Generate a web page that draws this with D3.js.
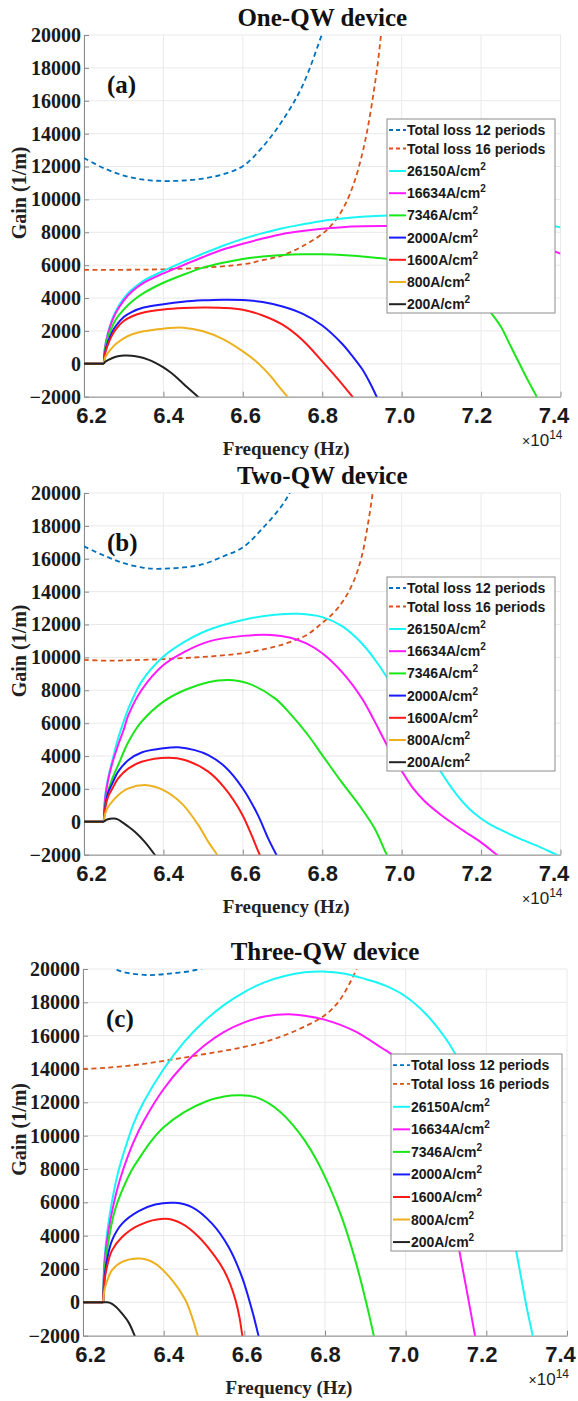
<!DOCTYPE html>
<html>
<head>
<meta charset="utf-8">
<script src="https://cdn.jsdelivr.net/npm/d3@7"></script>
<style>
  body { margin: 0; background: #fff; }
  svg { display: block; }
</style>
</head>
<body>
<div id="chart-container"></div>
<script>
// Titles, tags and ticks
const panelTitles = ["One-QW device", "Two-QW device", "Three-QW device"];
const panelTags = ["(a)", "(b)", "(c)"];
const xTicks = [6.2, 6.4, 6.6, 6.8, 7.0, 7.2, 7.4];
const yTicks = [-2000, 0, 2000, 4000, 6000, 8000, 10000, 12000, 14000, 16000, 18000, 20000];
const lossLabels = ["Total loss 12 periods", "Total loss 16 periods"];
const currentDensities = ["26150", "16634", "7346", "2000", "1600", "800", "200"];
const seriesColors = [
  "#0072BD", // loss 12 periods
  "#D95319", // loss 16 periods
  "#1AF5F5", // 26150
  "#FF1AFF", // 16634
  "#1AE61A", // 7346
  "#1A1AFF", // 2000
  "#FF1A1A", // 1600
  "#EDB120", // 800
  "#222222", // 200
];

// ---- Panel (a): one QW, [frequency 1e14 Hz, gain 1/m]
const a_loss12 = [[6.2,12520],[6.25,11900],[6.3,11450],[6.35,11200],[6.4,11120],[6.45,11150],[6.5,11270],[6.55,11530],[6.6,12020],[6.65,13200],[6.7,14800],[6.75,16900],[6.8,20100],[6.82,21500]];
const a_loss16 = [[6.2,5720],[6.3,5720],[6.4,5750],[6.5,5850],[6.6,6050],[6.65,6300],[6.7,6600],[6.75,7150],[6.8,7900],[6.82,8350],[6.84,8950],[6.86,9800],[6.88,11000],[6.9,12700],[6.915,14400],[6.93,16600],[6.94,18300],[6.948,20000],[6.956,21500]];
const a_j26150 = [[6.2,0],[6.25,0],[6.253,1050],[6.26,1850],[6.27,2650],[6.28,3200],[6.3,3980],[6.32,4500],[6.35,5050],[6.4,5650],[6.45,6200],[6.5,6700],[6.55,7180],[6.6,7600],[6.65,7950],[6.7,8250],[6.75,8480],[6.8,8690],[6.85,8840],[6.9,8950],[6.95,9010],[7.0,9040],[7.1,9080],[7.2,9000],[7.3,8750],[7.4,8300]];
const a_j16634 = [[6.2,0],[6.25,0],[6.253,1000],[6.26,1800],[6.27,2550],[6.28,3100],[6.3,3850],[6.32,4380],[6.35,4920],[6.4,5500],[6.45,6000],[6.5,6500],[6.55,6950],[6.6,7300],[6.65,7620],[6.7,7900],[6.75,8080],[6.8,8220],[6.85,8310],[6.9,8360],[6.95,8380],[7.0,8370],[7.1,8290],[7.2,8050],[7.3,7550],[7.4,6700]];
const a_j7346 = [[6.2,0],[6.25,0],[6.253,900],[6.26,1600],[6.27,2200],[6.28,2700],[6.3,3300],[6.32,3780],[6.35,4300],[6.4,4930],[6.45,5420],[6.5,5850],[6.55,6150],[6.6,6380],[6.65,6530],[6.7,6620],[6.75,6660],[6.8,6660],[6.85,6620],[6.9,6530],[6.95,6420],[7.0,6280],[7.05,6000],[7.1,5500],[7.15,4800],[7.2,3800],[7.225,3100],[7.25,2250],[7.275,1050],[7.3,-150],[7.32,-1100],[7.34,-2000],[7.35,-2500]];
const a_j2000 = [[6.2,0],[6.25,0],[6.253,700],[6.26,1300],[6.27,1900],[6.28,2300],[6.3,2850],[6.32,3150],[6.35,3420],[6.4,3630],[6.45,3780],[6.5,3860],[6.55,3900],[6.6,3880],[6.65,3760],[6.7,3490],[6.75,3050],[6.8,2330],[6.85,1220],[6.875,500],[6.9,-300],[6.92,-1150],[6.937,-2000],[6.95,-2700]];
const a_j1600 = [[6.2,0],[6.25,0],[6.253,620],[6.26,1150],[6.27,1700],[6.28,2100],[6.3,2600],[6.32,2880],[6.35,3120],[6.4,3300],[6.45,3390],[6.5,3420],[6.55,3400],[6.6,3290],[6.65,2940],[6.7,2380],[6.75,1450],[6.8,150],[6.84,-950],[6.876,-2000],[6.89,-2400]];
const a_j800 = [[6.2,0],[6.25,0],[6.253,380],[6.26,650],[6.27,950],[6.28,1200],[6.3,1550],[6.32,1780],[6.35,1980],[6.4,2140],[6.45,2200],[6.5,1980],[6.55,1500],[6.6,760],[6.63,220],[6.65,-230],[6.67,-750],[6.69,-1350],[6.713,-2030],[6.73,-2600]];
const a_j200 = [[6.2,0],[6.25,0],[6.253,120],[6.26,220],[6.28,430],[6.3,500],[6.32,490],[6.34,410],[6.36,270],[6.38,60],[6.4,-220],[6.42,-560],[6.44,-980],[6.46,-1430],[6.488,-2030],[6.5,-2300]];

// ---- Panel (b): two QWs
const b_loss12 = [[6.2,16750],[6.25,16200],[6.3,15730],[6.35,15450],[6.38,15390],[6.45,15470],[6.5,15670],[6.55,16140],[6.6,16690],[6.65,17860],[6.7,19290],[6.722,20200],[6.74,21200]];
const b_loss16 = [[6.2,9850],[6.26,9800],[6.3,9820],[6.4,9900],[6.5,10030],[6.6,10260],[6.68,10650],[6.72,10950],[6.76,11350],[6.8,12100],[6.83,12750],[6.857,13600],[6.882,14800],[6.9,16200],[6.915,18100],[6.927,20000],[6.935,21500]];
const b_j26150 = [[6.2,0],[6.25,0],[6.253,1500],[6.26,2600],[6.27,3600],[6.286,5080],[6.3,6100],[6.312,6900],[6.345,8530],[6.4,10050],[6.454,10960],[6.513,11670],[6.6,12280],[6.68,12590],[6.74,12650],[6.8,12450],[6.85,11900],[6.9,10850],[6.93,9950],[6.96,8900],[7.0,7300],[7.03,5950],[7.06,4600],[7.108,2700],[7.142,1550],[7.17,800],[7.2,200],[7.226,-200],[7.268,-700],[7.3,-1050],[7.35,-1550],[7.39,-2000],[7.42,-2300]];
const b_j16634 = [[6.2,0],[6.25,0],[6.253,1350],[6.26,2450],[6.27,3450],[6.286,4670],[6.3,5600],[6.312,6500],[6.345,8020],[6.4,9540],[6.454,10350],[6.513,10960],[6.6,11310],[6.672,11370],[6.72,11200],[6.76,10850],[6.8,10250],[6.85,9100],[6.9,7500],[6.93,6200],[6.96,4800],[7.0,3100],[7.03,2000],[7.06,1200],[7.1,400],[7.15,-450],[7.2,-1250],[7.234,-1900],[7.26,-2400]];
const b_j7346 = [[6.2,0],[6.25,0],[6.253,1000],[6.26,1800],[6.27,2560],[6.286,3450],[6.312,4870],[6.345,6090],[6.4,7310],[6.454,8020],[6.513,8490],[6.563,8630],[6.613,8420],[6.681,7510],[6.722,6500],[6.764,5280],[6.8,4060],[6.848,2440],[6.899,810],[6.932,-410],[6.963,-2030],[6.98,-2800]];
const b_j2000 = [[6.2,0],[6.25,0],[6.253,880],[6.261,1800],[6.27,2260],[6.286,3050],[6.312,3760],[6.345,4220],[6.4,4470],[6.437,4530],[6.479,4360],[6.513,4060],[6.555,3350],[6.6,2030],[6.638,410],[6.664,-1020],[6.685,-2030],[6.7,-2700]];
const b_j1600 = [[6.2,0],[6.25,0],[6.253,760],[6.261,1550],[6.27,1960],[6.286,2640],[6.312,3250],[6.345,3650],[6.412,3900],[6.454,3760],[6.513,3050],[6.555,2030],[6.597,510],[6.622,-810],[6.643,-2030],[6.66,-2800]];
const b_j800 = [[6.2,0],[6.25,0],[6.253,470],[6.261,910],[6.27,1200],[6.286,1620],[6.312,2030],[6.358,2230],[6.4,1930],[6.446,1120],[6.488,-200],[6.513,-1220],[6.536,-2030],[6.55,-2600]];
const b_j200 = [[6.2,0],[6.25,0],[6.256,120],[6.266,190],[6.275,200],[6.285,150],[6.295,0],[6.31,-260],[6.328,-610],[6.353,-1220],[6.379,-2030],[6.39,-2400]];

// ---- Panel (c): three QWs
const c_loss12 = [[6.2,21500],[6.25,20500],[6.268,20140],[6.297,19840],[6.359,19640],[6.421,19740],[6.479,19940],[6.516,20240],[6.56,21000],[6.6,22000]];
const c_loss16 = [[6.2,14010],[6.255,14070],[6.338,14270],[6.421,14570],[6.503,14900],[6.586,15260],[6.669,15760],[6.751,16560],[6.801,17250],[6.834,18050],[6.859,19040],[6.879,20040],[6.89,20800]];
const c_j26150 = [[6.2,0],[6.25,0],[6.253,2500],[6.26,4200],[6.27,5800],[6.285,7600],[6.3,8900],[6.325,10700],[6.35,12000],[6.4,14000],[6.45,15600],[6.5,16850],[6.55,17850],[6.6,18620],[6.65,19200],[6.7,19580],[6.75,19800],[6.793,19850],[6.85,19720],[6.9,19400],[6.95,19000],[7.0,18350],[7.05,17300],[7.1,15800],[7.13,14600],[7.16,13100],[7.19,11300],[7.22,9000],[7.245,6600],[7.26,4900],[7.273,3200],[7.29,1000],[7.3,-300],[7.315,-2000],[7.33,-3800]];
const c_j16634 = [[6.2,0],[6.25,0],[6.253,2200],[6.26,3800],[6.27,5200],[6.285,6800],[6.3,8000],[6.325,9600],[6.35,10850],[6.4,12800],[6.45,14270],[6.5,15400],[6.55,16230],[6.6,16800],[6.65,17150],[6.71,17290],[6.76,17150],[6.801,16950],[6.875,16260],[6.941,15260],[6.964,14900],[7.0,13900],[7.03,12600],[7.06,10800],[7.09,8400],[7.11,6300],[7.13,3500],[7.15,900],[7.172,-2000],[7.185,-3800]];
const c_j7346 = [[6.2,0],[6.25,0],[6.253,1800],[6.26,3200],[6.27,4600],[6.28,5600],[6.295,6600],[6.32,7900],[6.341,8700],[6.37,9700],[6.4,10500],[6.45,11400],[6.505,12050],[6.55,12350],[6.59,12420],[6.63,12300],[6.66,11950],[6.69,11400],[6.72,10650],[6.75,9700],[6.78,8500],[6.81,7000],[6.84,5200],[6.862,3600],[6.88,2100],[6.895,700],[6.908,-600],[6.921,-2000],[6.93,-3000]];
const c_j2000 = [[6.2,0],[6.25,0],[6.253,1400],[6.26,2600],[6.272,3720],[6.297,4720],[6.338,5470],[6.379,5870],[6.429,5970],[6.47,5710],[6.52,4720],[6.561,3320],[6.594,1530],[6.619,-460],[6.634,-1890],[6.645,-3000]];
const c_j1600 = [[6.2,0],[6.25,0],[6.253,1200],[6.26,2200],[6.272,3120],[6.297,3920],[6.338,4620],[6.404,5010],[6.445,4720],[6.487,3920],[6.528,2730],[6.55,1900],[6.565,1100],[6.578,150],[6.588,-900],[6.595,-2000],[6.6,-2800]];
const c_j800 = [[6.2,0],[6.25,0],[6.253,700],[6.26,1300],[6.272,1930],[6.297,2430],[6.342,2630],[6.379,2330],[6.421,1330],[6.454,140],[6.47,-860],[6.483,-1890],[6.49,-2500]];
const c_j200 = [[6.2,0],[6.26,0],[6.267,-30],[6.28,-230],[6.295,-620],[6.313,-1200],[6.327,-1940],[6.335,-2500]];

// Series per panel, in legend order
const panelSeries = [
  [a_loss12, a_loss16, a_j26150, a_j16634, a_j7346, a_j2000, a_j1600, a_j800, a_j200],
  [b_loss12, b_loss16, b_j26150, b_j16634, b_j7346, b_j2000, b_j1600, b_j800, b_j200],
  [c_loss12, c_loss16, c_j26150, c_j16634, c_j7346, c_j2000, c_j1600, c_j800, c_j200],
];

// Plot area of each panel in page pixels
const layout = [
  { left: 84, right: 560.5, top: 35, bottom: 396.7, legendX: 387, legendY: 119, legendW: 168, legendH: 194 },
  { left: 84, right: 560.5, top: 493, bottom: 854.7, legendX: 387, legendY: 577, legendW: 168, legendH: 194 },
  { left: 83, right: 567, top: 969, bottom: 1335.7, legendX: 391, legendY: 1054, legendW: 171, legendH: 197 },
];

const serif = "'Liberation Serif', 'Times New Roman', serif";
const sans = "'Liberation Sans', Arial, sans-serif";

const svg = d3
  .select("#chart-container")
  .append("svg")
  .attr("width", 578)
  .attr("height", 1401);

layout.forEach((L, i) => drawPanel(L, i));

// Split a curve into its flat zero-gain start (straight) and the rest (smooth)
function splitFlat(data) {
  let j = 0;
  while (j + 1 < data.length && data[j + 1][1] === 0 && data[0][1] === 0) j++;
  if (j === 0) return [null, data];
  return [data.slice(0, j + 1), data.slice(j)];
}

function drawPanel(L, i) {
  const x = d3.scaleLinear().domain([6.2, 7.4]).range([L.left, L.right]);
  const y = d3.scaleLinear().domain([-2000, 20000]).range([L.bottom, L.top]);
  // tick labels sit slightly inside the end ticks in the original
  const xLab = d3.scaleLinear().domain([6.2, 7.4]).range([L.left + 7, L.right - 7]);

  const g = svg.append("g");

  // clip for curves
  const clipId = `clip-${i}`;
  svg
    .append("clipPath")
    .attr("id", clipId)
    .append("rect")
    .attr("x", L.left)
    .attr("y", L.top)
    .attr("width", L.right - L.left)
    .attr("height", L.bottom - L.top);

  // grid
  g.append("g")
    .selectAll("line")
    .data(xTicks)
    .join("line")
    .attr("x1", (d) => x(d))
    .attr("x2", (d) => x(d))
    .attr("y1", L.top)
    .attr("y2", L.bottom)
    .attr("stroke", "#e9e9e9")
    .attr("stroke-width", 1);

  g.append("g")
    .selectAll("line")
    .data(yTicks)
    .join("line")
    .attr("x1", L.left)
    .attr("x2", L.right)
    .attr("y1", (d) => y(d))
    .attr("y2", (d) => y(d))
    .attr("stroke", "#e9e9e9")
    .attr("stroke-width", 1);

  // x axis (ticks only)
  const xAxisG = g
    .append("g")
    .attr("transform", `translate(0,${L.bottom})`)
    .call(d3.axisBottom(x).tickValues(xTicks).tickSizeInner(-5).tickSizeOuter(0).tickFormat(""));
  xAxisG.select(".domain").attr("stroke", "#8a8a8a");
  xAxisG.selectAll(".tick line").attr("stroke", "#8a8a8a");

  // x tick labels
  const xLabG = g
    .append("g")
    .attr("transform", `translate(0,${L.bottom})`)
    .call(d3.axisBottom(xLab).tickValues(xTicks).tickSize(0).tickFormat(d3.format(".1f")));
  xLabG.select(".domain").remove();
  xLabG
    .selectAll(".tick text")
    .attr("y", 26)
    .attr("dy", null)
    .attr("fill", "#1a1a1a")
    .style("font-family", sans)
    .style("font-weight", "bold")
    .style("font-size", "22px");

  // y axis
  const yAxisG = g
    .append("g")
    .attr("transform", `translate(${L.left},0)`)
    .call(
      d3.axisLeft(y).tickValues(yTicks).tickSizeInner(-5).tickSizeOuter(0).tickPadding(3).tickFormat(d3.format("d"))
    );
  yAxisG.select(".domain").attr("stroke", "#8a8a8a");
  yAxisG.selectAll(".tick line").attr("stroke", "#8a8a8a");
  yAxisG
    .selectAll(".tick text")
    .attr("fill", "#1a1a1a")
    .style("font-family", serif)
    .style("font-weight", "bold")
    .style("font-size", "20px");

  // curves: straight flat part, smooth remainder
  const flatLine = d3
    .line()
    .x((d) => x(d[0]))
    .y((d) => y(d[1]));
  const smoothLine = d3
    .line()
    .x((d) => x(d[0]))
    .y((d) => y(d[1]))
    .curve(d3.curveCatmullRom.alpha(0.5));

  g.append("g")
    .attr("clip-path", `url(#${clipId})`)
    .selectAll("path")
    .data(panelSeries[i])
    .join("path")
    .attr("d", (d) => {
      const [flat, rest] = splitFlat(d);
      return (flat ? flatLine(flat) : "") + smoothLine(rest);
    })
    .attr("fill", "none")
    .attr("stroke", (d, k) => seriesColors[k])
    .attr("stroke-width", (d, k) => (k < 2 ? 1.8 : 2))
    .attr("stroke-linejoin", "round")
    .attr("stroke-dasharray", (d, k) => (k < 2 ? "5,3.5" : null));

  // title
  g.append("text")
    .attr("x", (L.left + L.right) / 2)
    .attr("y", L.top - 9)
    .attr("text-anchor", "middle")
    .attr("fill", "#111")
    .style("font-family", serif)
    .style("font-weight", "bold")
    .style("font-size", "25px")
    .text(panelTitles[i]);

  // panel tag
  g.append("text")
    .attr("x", L.left + 23)
    .attr("y", L.top + 58)
    .attr("fill", "#111")
    .style("font-family", serif)
    .style("font-weight", "bold")
    .style("font-size", "25px")
    .text(panelTags[i]);

  // axis labels
  g.append("text")
    .attr("x", (L.left + L.right) / 2 - 36)
    .attr("y", L.bottom + 58)
    .attr("text-anchor", "middle")
    .attr("fill", "#222")
    .style("font-family", serif)
    .style("font-weight", "bold")
    .style("font-size", "19px")
    .text("Frequency (Hz)");

  g.append("text")
    .attr("transform", `translate(26,${(L.top + L.bottom) / 2 - 23}) rotate(-90)`)
    .attr("text-anchor", "middle")
    .attr("fill", "#222")
    .style("font-family", serif)
    .style("font-weight", "bold")
    .style("font-size", "20px")
    .text("Gain (1/m)");

  // x10^14 exponent
  const expo = g
    .append("text")
    .attr("x", L.right + 2)
    .attr("y", L.bottom + 49)
    .attr("text-anchor", "end")
    .attr("fill", "#222")
    .style("font-family", sans);
  expo.append("tspan").style("font-size", "14px").text("\u00d7");
  expo.append("tspan").style("font-size", "17px").text("10");
  expo.append("tspan").attr("dy", -7).style("font-size", "12px").text("14");

  drawLegend(g, L);
}

function drawLegend(g, L) {
  const k = L.legendH / 194;
  const rowCenters = [11, 29.5, 52, 74.2, 96.4, 118.6, 140.8, 163, 185.2].map((d) => d * k);

  const lg = g.append("g").attr("transform", `translate(${L.legendX},${L.legendY})`);

  lg.append("rect")
    .attr("width", L.legendW)
    .attr("height", L.legendH)
    .attr("fill", "#fff")
    .attr("stroke", "#8c8c8c")
    .attr("stroke-width", 1);

  const rows = lg
    .selectAll(".legend-row")
    .data(seriesColors)
    .join("g")
    .attr("class", "legend-row")
    .attr("transform", (d, j) => `translate(0,${rowCenters[j]})`);

  rows
    .append("line")
    .attr("x1", 2)
    .attr("x2", 19)
    .attr("stroke", (d) => d)
    .attr("stroke-width", (d, j) => (j < 2 ? 1.8 : 2))
    .attr("stroke-dasharray", (d, j) => (j < 2 ? "4,3" : null));

  rows.each(function (d, j) {
    const t = d3
      .select(this)
      .append("text")
      .attr("x", 20)
      .attr("y", 5)
      .attr("fill", "#1a1a1a")
      .style("font-family", sans)
      .style("font-weight", "bold")
      .style("font-size", "14px");
    if (j < 2) {
      t.text(lossLabels[j]);
    } else {
      t.append("tspan").text(`${currentDensities[j - 2]}A/cm`);
      t.append("tspan").attr("dy", -6).style("font-size", "10px").text("2");
    }
  });
}
</script>
</body>
</html>
